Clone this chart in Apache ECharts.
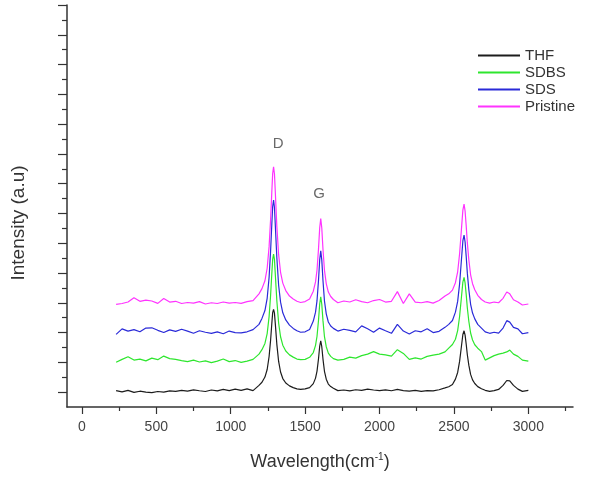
<!DOCTYPE html>
<html>
<head>
<meta charset="utf-8">
<title>Raman spectra</title>
<script src="https://cdn.jsdelivr.net/npm/echarts@6.0.0/dist/echarts.min.js"></script>
<style>
  html, body { margin: 0; padding: 0; background: #fff; }
  #chart { width: 590px; height: 477px; }
</style>
</head>
<body>
<div id="chart"></div>
<script>
// wavenumber axis shared by all spectra (cm-1)
const wavenumbers = [
  230, 270, 310, 350, 390, 430, 470, 510, 550, 590, 630, 670, 710, 750, 790, 830, 870, 910, 950, 990,
  1030, 1070, 1110, 1150, 1190,
  1210, 1230, 1245, 1258, 1268, 1276, 1282, 1288, 1294, 1300, 1310, 1322, 1335, 1350, 1370, 1395, 1420, 1445, 1470,
  1500, 1530, 1555,
  1570, 1580, 1590, 1598, 1605, 1612, 1620, 1630, 1642, 1656, 1672, 1690,
  1720, 1760, 1800, 1840, 1880, 1920, 1960, 2000, 2040, 2080, 2120, 2160, 2200, 2240, 2280, 2320, 2360, 2400, 2440,
  2465, 2490, 2510, 2525, 2538, 2550, 2560, 2568, 2575, 2582, 2590, 2600, 2612, 2625, 2640, 2660, 2685,
  2710, 2740, 2770, 2800, 2830, 2855, 2875, 2900, 2930, 2960, 3000
];

// intensities (a.u.), spectra already offset as in the figure
const thf = [
  1.10, 1.02, 1.12, 0.98, 1.06, 1.00, 0.96, 1.04, 1.00, 1.08, 1.05, 1.12, 1.07, 1.15, 1.09, 1.04, 1.14, 1.08, 1.18, 1.10,
  1.20, 1.12, 1.22, 1.10, 1.45,
  1.66, 2.01, 2.52, 3.39, 4.48, 5.57, 6.34, 6.56, 6.30, 5.55, 4.21, 3.06, 2.35, 1.91, 1.61, 1.42, 1.30, 1.22, 1.18,
  1.22, 1.30, 1.57,
  1.94, 2.41, 3.24, 4.08, 4.45, 4.05, 3.22, 2.40, 1.87, 1.54, 1.37, 1.26,
  1.10, 1.14, 1.08, 1.16, 1.12, 1.20, 1.14, 1.10, 1.15, 1.09, 1.18, 1.10, 1.06, 1.12, 1.05, 1.10, 1.08, 1.16, 1.28,
  1.36, 1.51, 1.87, 2.32, 3.06, 4.05, 4.87, 5.12, 4.83, 4.25, 3.51, 2.81, 2.19, 1.82, 1.58, 1.37, 1.23,
  1.12, 1.05, 1.10, 1.18, 1.45, 1.78, 1.75, 1.45, 1.20, 1.05, 1.12
];
const sdbs = [
  3.00, 3.20, 3.38, 3.15, 3.22, 3.10, 3.28, 3.18, 3.42, 3.25, 3.20, 3.12, 3.05, 3.15, 3.02, 3.10, 2.98, 3.08, 3.22, 3.05,
  3.12, 3.00, 3.08, 3.20, 3.55,
  3.85, 4.27, 4.93, 6.07, 7.49, 8.92, 9.91, 10.27, 9.90, 8.85, 7.14, 5.64, 4.72, 4.15, 3.76, 3.50, 3.35, 3.22, 3.18,
  3.20, 3.34, 3.66,
  4.14, 4.75, 5.83, 6.92, 7.40, 6.90, 5.80, 4.72, 4.05, 3.62, 3.40, 3.25,
  3.15, 3.20, 3.35, 3.28, 3.45, 3.55, 3.72, 3.55, 3.50, 3.42, 3.85, 3.60, 3.20, 3.30, 3.22, 3.40, 3.48, 3.55, 3.70,
  3.95, 4.20, 4.55, 5.13, 6.08, 7.34, 8.39, 8.70, 8.33, 7.60, 6.65, 5.76, 4.97, 4.50, 4.18, 3.95, 3.72,
  3.15, 3.30, 3.45, 3.55, 3.62, 3.70, 3.82, 3.55, 3.40, 3.15, 3.08
];
const sds = [
  4.88, 5.25, 5.10, 5.20, 5.05, 5.30, 5.32, 5.15, 5.00, 5.18, 5.08, 5.22, 5.10, 4.95, 5.12, 5.02, 4.95, 5.05, 4.92, 5.10,
  5.00, 4.98, 5.05, 5.20, 5.55,
  5.95, 6.48, 7.30, 8.71, 10.47, 12.23, 13.46, 13.90, 13.40, 12.15, 10.03, 8.18, 7.04, 6.33, 5.85, 5.50, 5.28, 5.12, 5.02,
  5.05, 5.20, 5.77,
  6.37, 7.14, 8.51, 9.89, 10.49, 9.88, 8.50, 7.12, 6.26, 5.71, 5.44, 5.28,
  5.10, 5.22, 5.15, 5.05, 5.45, 5.25, 5.02, 5.30, 5.12, 4.95, 5.55, 5.10, 4.90, 5.12, 5.05, 5.25, 5.00, 5.08, 5.35,
  5.55, 5.81, 6.37, 7.09, 8.27, 9.84, 11.15, 11.54, 11.08, 10.17, 8.99, 7.88, 6.90, 6.31, 5.92, 5.55, 5.30,
  5.05, 4.95, 5.02, 4.96, 5.30, 5.80, 5.70, 5.35, 5.25, 4.92, 5.00
];
const pristine = [
  6.89, 6.95, 7.05, 7.34, 7.10, 7.18, 7.12, 6.96, 7.29, 7.05, 7.10, 6.95, 7.02, 6.98, 7.08, 6.92, 7.00, 6.95, 7.05, 6.98,
  7.02, 6.96, 7.08, 7.15, 7.60,
  7.95, 8.48, 9.32, 10.77, 12.59, 14.40, 15.68, 16.13, 15.65, 14.35, 12.13, 10.23, 9.05, 8.32, 7.82, 7.45, 7.25, 7.10, 7.02,
  7.08, 7.25, 7.78,
  8.40, 9.20, 10.62, 12.04, 12.66, 12.02, 10.60, 9.18, 8.29, 7.72, 7.42, 7.22,
  7.00, 7.12, 7.05, 7.20, 7.08, 7.00, 7.15, 7.22, 7.05, 7.10, 7.75, 6.95, 7.60, 7.05, 7.00, 7.08, 6.98, 7.15, 7.45,
  7.60, 7.85, 8.35, 9.08, 10.29, 11.89, 13.22, 13.62, 13.15, 12.22, 11.02, 9.88, 8.88, 8.28, 7.88, 7.50, 7.22,
  7.05, 6.98, 7.05, 7.00, 7.30, 7.72, 7.60, 7.20, 7.05, 6.85, 6.92
];

const seriesNames = ['THF', 'SDBS', 'SDS', 'Pristine'];
const seriesValues = [thf, sdbs, sds, pristine];
const seriesColors = ['#1c1c1c', '#2ee62e', '#2a2ad8', '#ff33ff'];

const xMajorTicks = [0, 500, 1000, 1500, 2000, 2500, 3000];
const xMinorTicks = [250, 750, 1250, 1750, 2250, 2750, 3250];
const yMajorTicks = [1, 3, 5, 7, 9, 11, 13, 15, 17, 19, 21, 23, 25, 27];
const yMinorTicks = [2, 4, 6, 8, 10, 12, 14, 16, 18, 20, 22, 24, 26];

// peak annotations: label, wavenumber, intensity
const peakLabels = [['D', 1319, 17.7], ['G', 1594, 14.3]];

const chart = echarts.init(document.getElementById('chart'));

const axisColor = '#333';
const xRange = { min: -100, max: 3300 };
const yRange = { min: 0, max: 27 };

const option = {
  animation: false,
  backgroundColor: '#fff',
  grid: { left: 67, right: 17, top: 5, bottom: 70 },
  legend: {
    data: seriesNames,
    orient: 'vertical',
    left: 478,
    top: 48,
    padding: 0,
    icon: 'rect',
    itemWidth: 42,
    itemHeight: 2,
    itemGap: 2,
    textStyle: { fontFamily: 'Liberation Sans', fontSize: 15, color: '#333', lineHeight: 14 }
  },
  xAxis: [
    {
      type: 'value',
      ...xRange,
      name: '{a|Wavelength(cm}{s|-1}{a|)}',
      nameLocation: 'middle',
      nameGap: 45,
      nameTextStyle: {
        rich: {
          a: { fontFamily: 'Liberation Sans', fontSize: 18, color: '#333' },
          s: { fontFamily: 'Liberation Sans', fontSize: 10, color: '#333', padding: [0, 0, 10, 0] }
        }
      },
      axisLine: { onZero: false, lineStyle: { color: axisColor, width: 1.5 } },
      axisTick: { inside: false, length: 7, customValues: xMajorTicks, lineStyle: { color: axisColor, width: 1.2 } },
      axisLabel: {
        customValues: xMajorTicks,
        formatter: v => String(v),
        margin: 13,
        fontFamily: 'Liberation Sans',
        fontSize: 14,
        color: '#444'
      },
      splitLine: { show: false }
    },
    {
      type: 'value',
      ...xRange,
      position: 'bottom',
      axisLine: { show: false, onZero: false },
      axisTick: { inside: false, length: 4, customValues: xMinorTicks, lineStyle: { color: axisColor, width: 1.2 } },
      axisLabel: { show: false },
      splitLine: { show: false }
    }
  ],
  yAxis: [
    {
      type: 'value',
      ...yRange,
      axisLine: { show: true, onZero: false, lineStyle: { color: axisColor, width: 1.5 } },
      axisTick: { show: true, length: 9, customValues: yMajorTicks, lineStyle: { color: axisColor, width: 1.2 } },
      axisLabel: { show: false },
      splitLine: { show: false }
    },
    {
      type: 'value',
      ...yRange,
      position: 'left',
      axisLine: { show: false, onZero: false },
      axisTick: { show: true, length: 5, customValues: yMinorTicks, lineStyle: { color: axisColor, width: 1.2 } },
      axisLabel: { show: false },
      splitLine: { show: false }
    }
  ],
  graphic: [
    {
      type: 'text',
      x: 19,
      y: 223,
      rotation: Math.PI / 2,
      style: {
        text: 'Intensity (a.u)',
        fontFamily: 'Liberation Sans',
        fontSize: 19,
        fill: '#333',
        align: 'center',
        verticalAlign: 'middle'
      }
    }
  ],
  series: seriesNames.map((name, k) => ({
    name,
    type: 'line',
    symbol: 'none',
    smooth: false,
    color: seriesColors[k],
    lineStyle: { width: 1.2, color: seriesColors[k] },
    data: wavenumbers.map((w, i) => [w, seriesValues[k][i]])
  })).concat([{
    name: 'peaks',
    type: 'scatter',
    symbolSize: 0,
    silent: true,
    data: peakLabels.map(p => ({ value: [p[1], p[2]], name: p[0] })),
    label: {
      show: true,
      position: 'inside',
      formatter: p => p.name,
      fontFamily: 'Liberation Sans',
      fontSize: 15,
      color: '#444'
    }
  }])
};

chart.setOption(option);
</script>
</body>
</html>
